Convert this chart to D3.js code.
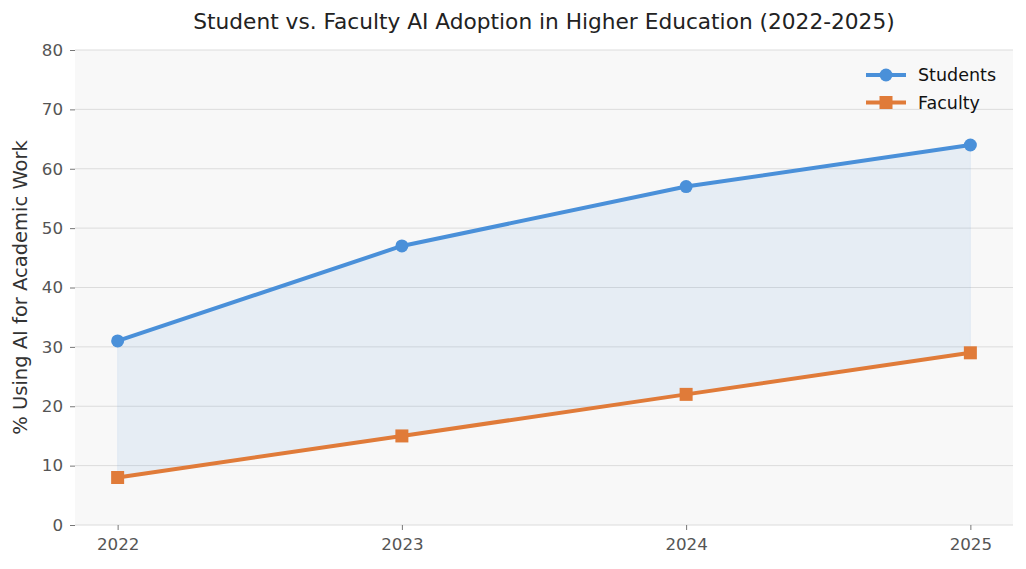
<!DOCTYPE html>
<html>
<head>
<meta charset="utf-8">
<script src="https://cdn.jsdelivr.net/npm/d3@7"></script>
<style>
  body { margin: 0; background: #fff; }
  svg text { font-family: "DejaVu Sans", sans-serif; }
</style>
</head>
<body>
<div id="container"></div>
<script>
const years = [2022, 2023, 2024, 2025];
const students = [31, 47, 57, 64];
const faculty = [8, 15, 22, 29];
const yTicks = [0, 10, 20, 30, 40, 50, 60, 70, 80];

const W = 1026, H = 569;
const margin = {top: 50, right: 13, bottom: 44, left: 75};
const width = W - margin.left - margin.right,
      height = H - margin.top - margin.bottom;

const svg = d3.select("#container")
  .append("svg")
    .attr("width", W)
    .attr("height", H);

const g = svg.append("g")
  .attr("transform", `translate(${margin.left},${margin.top})`);

const x = d3.scaleLinear().domain([2021.85, 2025.15]).range([0, width]);
const y = d3.scaleLinear().domain([0, 80]).range([height, 0]);

// plot background
g.append("rect")
  .attr("width", width).attr("height", height)
  .attr("fill", "#f8f8f8");

// grid
g.append("g").selectAll("line")
  .data(yTicks)
  .join("line")
    .attr("x1", 0).attr("x2", width)
    .attr("y1", d => y(d)).attr("y2", d => y(d))
    .attr("stroke", "#dcdcdc").attr("stroke-width", 1);

// axes
const yAxis = g.append("g")
  .call(d3.axisLeft(y).tickValues(yTicks).tickSize(5).tickPadding(7));
const xAxis = g.append("g")
  .attr("transform", `translate(0,${height})`)
  .call(d3.axisBottom(x).tickValues(years).tickFormat(d3.format("d")).tickSize(5).tickPadding(8));
[yAxis, xAxis].forEach(a => {
  a.attr("font-family", null).attr("font-size", null);
  a.select(".domain").remove();
  a.selectAll(".tick line").attr("stroke", "#777");
  a.selectAll(".tick text")
    .attr("fill", "#555")
    .style("font-size", "16.7px");
});

// gap fill
const rows = years.map((yr, i) => ({yr, s: students[i], f: faculty[i]}));
g.append("path")
  .datum(rows)
  .attr("d", d3.area().x(d => x(d.yr)).y0(d => y(d.f)).y1(d => y(d.s)))
  .attr("fill", "#4a90d9").attr("fill-opacity", 0.1)
  .attr("stroke", "#4a90d9").attr("stroke-opacity", 0.08).attr("stroke-width", 1);

const line = d3.line().x(d => x(d[0])).y(d => y(d[1]));

const series = [
  {name: "Students", values: students, color: "#4a90d9", shape: "circle"},
  {name: "Faculty", values: faculty, color: "#e07b39", shape: "square"}
];

series.forEach(s => {
  const pts = years.map((yr, i) => [yr, s.values[i]]);
  g.append("path")
    .datum(pts)
    .attr("d", line)
    .attr("fill", "none")
    .attr("stroke", s.color)
    .attr("stroke-width", 4)
    .attr("stroke-linejoin", "round");
  if (s.shape === "circle") {
    g.append("g").selectAll("circle")
      .data(pts).join("circle")
        .attr("cx", d => x(d[0])).attr("cy", d => y(d[1]))
        .attr("r", 6.5).attr("fill", s.color);
  } else {
    g.append("g").selectAll("rect")
      .data(pts).join("rect")
        .attr("x", d => x(d[0]) - 6.5).attr("y", d => y(d[1]) - 6.5)
        .attr("width", 13).attr("height", 13).attr("fill", s.color);
  }
});

// legend
const legend = g.append("g").attr("transform", `translate(${width - 147},25)`);
series.forEach((s, i) => {
  const row = legend.append("g").attr("transform", `translate(0,${i * 27.5})`);
  row.append("line").attr("x1", 0).attr("x2", 40).attr("y1", 0).attr("y2", 0)
    .attr("stroke", s.color).attr("stroke-width", 4);
  if (s.shape === "circle") {
    row.append("circle").attr("cx", 20).attr("cy", 0).attr("r", 6.5).attr("fill", s.color);
  } else {
    row.append("rect").attr("x", 13.5).attr("y", -6.5).attr("width", 13).attr("height", 13).attr("fill", s.color);
  }
  row.append("text").attr("x", 52).attr("y", 6)
    .style("font-size", "17.5px").attr("fill", "#111").text(s.name);
});

// title
svg.append("text")
  .attr("x", margin.left + width / 2).attr("y", 29)
  .attr("text-anchor", "middle")
  .style("font-size", "21.7px").attr("fill", "#222")
  .text("Student vs. Faculty AI Adoption in Higher Education (2022-2025)");

// y label
svg.append("text")
  .attr("transform", `translate(27,${margin.top + height / 2}) rotate(-90)`)
  .attr("text-anchor", "middle")
  .style("font-size", "19.5px").attr("fill", "#333")
  .text("% Using AI for Academic Work");
</script>
</body>
</html>
